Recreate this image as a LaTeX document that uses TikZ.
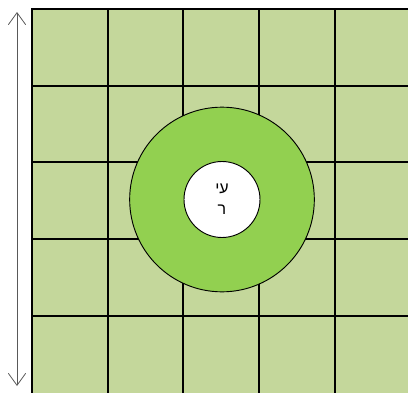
\documentclass[tikz,border=0pt]{standalone}
\usepackage{fontspec}
\setmainfont{Liberation Sans}
\newfontfamily\hebfont[Script=Hebrew]{Liberation Sans}
\TeXXeTstate=1
\usepackage{tikz}
\usetikzlibrary{arrows.meta, positioning}
\definecolor{cellgreen}{RGB}{196,215,155}
\definecolor{ringgreen}{RGB}{146,208,80}

\begin{document}
\begin{tikzpicture}[x=0.75pt,y=-0.75pt]
            \useasboundingbox (0,0) rectangle (408,393); %画像の大きさ
            \begin{scope}
                \clip (0,0) rectangle (408,393);
                \fill[cellgreen] (32,8.7) rectangle (412,394); %背景
                \foreach \i in {0,...,4}{
                    \draw[line width=1.5pt,line cap=rect] ({32+75.7*\i},8.7) --({32+75.7*\i},394); %縦線
                    \draw[line width=1.5pt,line cap=rect] (32,{8.7+76.8*\i}) --(412,{8.7+76.8*\i}); %横線
                }
            \end{scope}
            \node[circle, draw, line width=0.7pt, fill=ringgreen, inner sep=0pt, minimum size=138.5pt] (ring) at (222,199.5) {}; %外側の円
            \node[circle, draw, line width=0.7pt, fill=white, inner sep=0pt, minimum size=57pt, align=center,
                  font=\hebfont\fontsize{12}{16}\selectfont] (city) at (ring.center)
                  {\beginR עי\endR\\\beginR ר\endR}; %内側の円
            \coordinate (top) at (17,12);
            \coordinate (bottom) at (17,386);
            \draw[{Straight Barb[length=9pt,width=13pt]}-{Straight Barb[length=9pt,width=13pt]},black!65,line width=0.6pt] (top) --(bottom); %矢印
        \end{tikzpicture}
\end{document}
